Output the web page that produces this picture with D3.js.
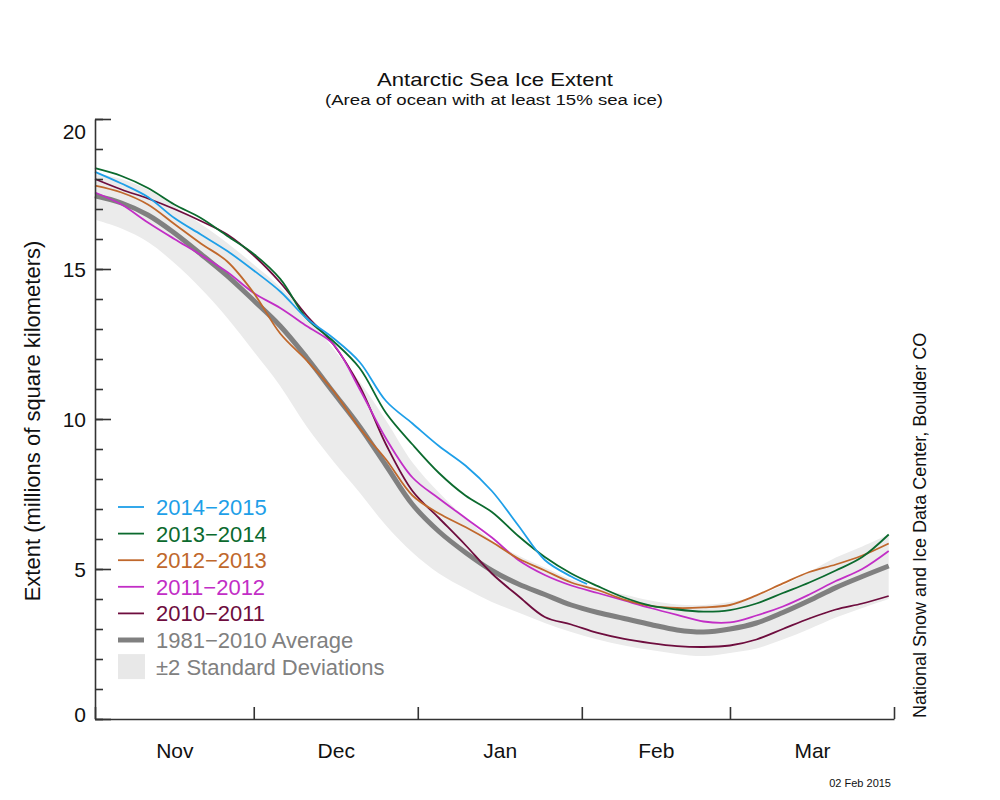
<!DOCTYPE html>
<html><head><meta charset="utf-8">
<script src="https://cdn.jsdelivr.net/npm/d3@7"></script>
<style>
body{margin:0;background:#fff}
svg{display:block}
text{font-family:"Liberation Sans",Arial,Helvetica,sans-serif}
</style>
</head><body>
<svg id="c" width="1000" height="800"></svg>
<script>
// ---- data (days since 1 Nov) ----
const days = [0,5,10,15,20,25,30,35,40,45,50,55,60,65,70,75,80,85,90,95,100,105,110,115,120,125,130,135,140,145,150];
const avg1981_2010 = [17.44,17.2,16.8,16.2,15.5,14.77,13.95,13.1,12.05,10.9,9.75,8.45,7.15,6.25,5.55,4.95,4.5,4.15,3.8,3.55,3.35,3.15,2.97,2.9,3.0,3.2,3.55,3.95,4.38,4.75,5.1];
// band extent below / above the average (+-2 standard deviations)
const sdBelow = [0.8,0.85,0.9,1.0,1.15,1.4,1.7,2.0,2.3,2.3,2.2,2.0,1.6,1.4,1.2,1.05,0.95,0.95,0.9,0.9,0.9,0.85,0.8,0.8,0.8,0.85,0.9,0.95,1.0,1.05,1.1];
const sdAbove = [0.75,0.8,0.85,0.9,1.0,1.1,1.2,1.3,1.4,1.45,1.5,1.5,1.4,1.3,1.15,1.0,0.95,0.9,0.85,0.8,0.8,0.8,0.85,0.9,0.9,0.9,0.9,0.95,1.0,1.0,1.05];
const s2010_2011 = [18.0,17.65,17.35,17.0,16.6,16.15,15.45,14.55,13.45,12.5,11.1,9.15,7.6,6.7,5.8,4.85,4.1,3.4,3.15,2.87,2.67,2.53,2.43,2.4,2.45,2.65,3.0,3.35,3.65,3.85,4.1];
const s2011_2012 = [17.55,17.15,16.55,16.0,15.47,14.9,14.2,13.7,13.1,12.5,11.0,9.35,8.05,7.35,6.7,6.05,5.3,4.8,4.45,4.2,3.95,3.7,3.47,3.25,3.22,3.45,3.75,4.15,4.6,5.0,5.6];
const s2012_2013 = [17.78,17.55,17.15,16.5,15.85,15.25,14.2,12.85,11.95,10.95,9.7,8.65,7.45,6.85,6.4,5.9,5.35,4.95,4.55,4.3,3.98,3.77,3.7,3.72,3.8,4.12,4.52,4.9,5.15,5.45,5.85];
const s2013_2014 = [18.36,18.1,17.7,17.15,16.7,16.1,15.5,14.67,13.35,12.6,11.7,10.2,9.15,8.2,7.45,6.9,6.1,5.4,4.85,4.43,4.05,3.78,3.65,3.58,3.63,3.85,4.2,4.55,4.95,5.4,6.15];
const days2014_2015 = [0,5,10,15,20,25,30,35,40,45,50,55,60,65,70,75,80,85,90,93];
const s2014_2015 = [18.24,17.85,17.4,16.7,16.15,15.6,14.95,14.25,13.35,12.7,11.9,10.6,9.85,9.1,8.45,7.6,6.45,5.3,4.75,4.5];

const seriesNames = ["2014\u22122015","2013\u22122014","2012\u22122013","2011\u22122012","2010\u22122011"];
const seriesColors = ["#1e9fe8","#0b6a2e","#c0682c","#c22ec6","#6e0d3e"];

const monthBounds = [0,30,61,92,120,151];
const monthNames = ["Nov","Dec","Jan","Feb","Mar"];
const yMajor = [0,5,10,15,20];
const yMinor = [0,1,2,3,4,5,6,7,8,9,10,11,12,13,14,15,16,17,18,19,20];

// ---- chart ----
const svg = d3.select("#c");
const x = d3.scaleLinear().domain([0,151]).range([95,894]);
const y = d3.scaleLinear().domain([0,20]).range([719,119]);
const curve = d3.curveCatmullRom.alpha(0.5);

// band
const bandData = days.map((d,i)=>({d, lo: avg1981_2010[i]-sdBelow[i], hi: avg1981_2010[i]+sdAbove[i]}));
svg.append("path").datum(bandData)
  .attr("fill","#ebebeb")
  .attr("d", d3.area().x(p=>x(p.d)).y0(p=>y(p.lo)).y1(p=>y(p.hi)).curve(curve));

const line = d3.line().x(p=>x(p[0])).y(p=>y(p[1])).curve(curve);

// average
svg.append("path").datum(days.map((d,i)=>[d,avg1981_2010[i]]))
  .attr("fill","none").attr("stroke","#808080").attr("stroke-width",5).attr("d",line);

// series (draw oldest first)
const seriesData = [
  days2014_2015.map((d,i)=>[d,s2014_2015[i]]),
  days.map((d,i)=>[d,s2013_2014[i]]),
  days.map((d,i)=>[d,s2012_2013[i]]),
  days.map((d,i)=>[d,s2011_2012[i]]),
  days.map((d,i)=>[d,s2010_2011[i]])
];
for (let k = seriesData.length-1; k>=0; k--) {
  svg.append("path").datum(seriesData[k])
    .attr("fill","none").attr("stroke",seriesColors[k]).attr("stroke-width",1.8).attr("d",line);
}

// axes
const axisColor = "#333";
const gyMinor = svg.append("g").attr("transform","translate(95,0)")
  .call(d3.axisRight(y).tickValues(yMinor).tickSize(8).tickSizeOuter(0).tickFormat(""));
const gyMajor = svg.append("g").attr("transform","translate(95,0)")
  .call(d3.axisRight(y).tickValues(yMajor).tickSize(16).tickSizeOuter(0).tickFormat(""));
gyMajor.select(".domain").remove();
const gyLab = svg.append("g").attr("transform","translate(95,0)")
  .call(d3.axisLeft(y).tickValues(yMajor).tickSize(0).tickPadding(9));
gyLab.select(".domain").remove();
gyLab.selectAll("text").attr("font-size",21).attr("fill","#111")
  .attr("font-family","'Liberation Sans',Arial,sans-serif")
  .attr("dy", d => d===20 ? "0.95em" : d===0 ? "0.1em" : "0.36em");

const gx = svg.append("g").attr("transform","translate(0,719)")
  .call(d3.axisTop(x).tickValues(monthBounds).tickSize(12).tickSizeOuter(0).tickFormat(""));
const monthMid = monthNames.map((m,i)=>(monthBounds[i]+monthBounds[i+1])/2);
const gxLab = svg.append("g").attr("transform","translate(0,719)")
  .call(d3.axisBottom(x).tickValues(monthMid).tickSize(0).tickPadding(24).tickFormat((d,i)=>monthNames[i]));
gxLab.select(".domain").remove();
gxLab.selectAll("text").attr("font-size",21).attr("fill","#111")
  .attr("font-family","'Liberation Sans',Arial,sans-serif");

[gyMinor,gyMajor,gx].forEach(g=>{
  g.selectAll("line").attr("stroke",axisColor).attr("stroke-width",1.6);
  g.selectAll(".domain").attr("stroke",axisColor).attr("stroke-width",1.6);
});

// titles
svg.append("text").attr("x",495).attr("y",86).attr("text-anchor","middle")
  .attr("font-size",19).attr("textLength",236).attr("lengthAdjust","spacingAndGlyphs")
  .attr("fill","#111").text("Antarctic Sea Ice Extent");
svg.append("text").attr("x",494).attr("y",105).attr("text-anchor","middle")
  .attr("font-size",15.5).attr("textLength",338).attr("lengthAdjust","spacingAndGlyphs")
  .attr("fill","#111").text("(Area of ocean with at least 15% sea ice)");

svg.append("text").attr("transform","translate(40,421) rotate(-90)").attr("text-anchor","middle")
  .attr("font-size",22).attr("fill","#111").text("Extent (millions of square kilometers)");

svg.append("text").attr("transform","translate(926,718) rotate(-90)").attr("text-anchor","start")
  .attr("font-size",18).attr("fill","#111").text("National Snow and Ice Data Center, Boulder CO");

svg.append("text").attr("x",891).attr("y",787).attr("text-anchor","end")
  .attr("font-size",11).attr("fill","#111").text("02 Feb 2015");

// legend
const legY0 = 507, legStep = 26.6;
seriesNames.forEach((n,i)=>{
  const yy = legY0 + i*legStep;
  svg.append("line").attr("x1",118).attr("x2",144).attr("y1",yy).attr("y2",yy)
    .attr("stroke",seriesColors[i]).attr("stroke-width",1.8);
  svg.append("text").attr("x",156).attr("y",yy).attr("dy","0.36em")
    .attr("font-size",22).attr("fill",seriesColors[i]).text(n);
});
const yAvg = legY0 + 5*legStep;
svg.append("line").attr("x1",118).attr("x2",144).attr("y1",yAvg).attr("y2",yAvg)
  .attr("stroke","#808080").attr("stroke-width",5);
svg.append("text").attr("x",156).attr("y",yAvg).attr("dy","0.36em")
  .attr("font-size",22).attr("fill","#808080").text("1981\u22122010 Average");
const ySD = legY0 + 6*legStep;
svg.append("rect").attr("x",118).attr("y",ySD-12.5).attr("width",27).attr("height",25).attr("fill","#e8e8e8");
svg.append("text").attr("x",156).attr("y",ySD).attr("dy","0.36em")
  .attr("font-size",22).attr("fill","#808080").text("\u00b12 Standard Deviations");
</script>
</body></html>
